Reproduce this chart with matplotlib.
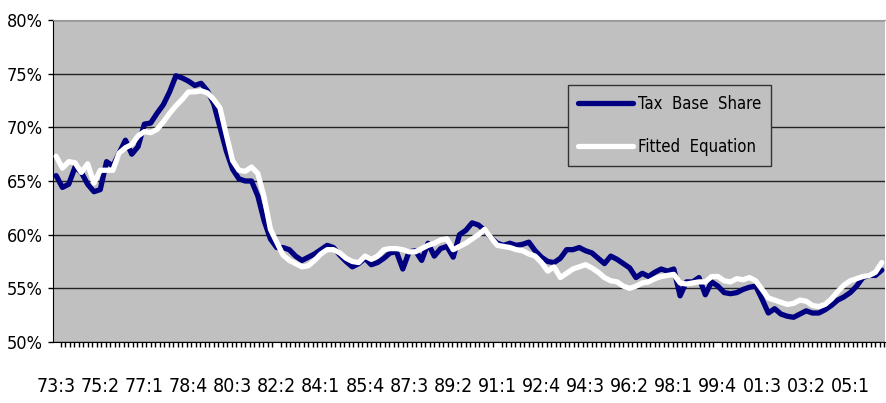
import numpy as np
import matplotlib
matplotlib.use("Agg")
import matplotlib.pyplot as plt
from matplotlib.ticker import FixedLocator, MultipleLocator

# narrow face to get close to the condensed font of the original
plt.rcParams['font.family'] = ['DejaVu Sans']
plt.rcParams['font.stretch'] = 'condensed'

# quarterly values, 73:3 .. 06:2
tax_base_share = [
    65.5, 64.4, 64.7, 66.3, 65.8, 64.7, 64.0, 64.2, 66.8, 66.4,
    67.6, 68.8, 67.5, 68.2, 70.3, 70.4, 71.3, 72.1, 73.3, 74.8,
    74.6, 74.3, 73.9, 74.1, 73.4, 72.2, 70.0, 67.8, 66.1, 65.2,
    65.0, 65.0, 63.6, 61.3, 59.6, 58.8, 58.8, 58.6, 58.0, 57.6,
    57.9, 58.2, 58.6, 59.0, 58.8, 58.1, 57.5, 57.0, 57.3, 57.8,
    57.2, 57.4, 57.8, 58.3, 58.4, 56.8, 58.4, 58.5, 57.6, 59.2,
    58.0, 58.7, 58.9, 57.9, 60.0, 60.4, 61.1, 60.9, 60.4, 59.7,
    59.2, 59.0, 59.2, 59.0, 59.1, 59.3, 58.5, 57.9, 57.5, 57.4,
    57.8, 58.6, 58.6, 58.8, 58.5, 58.3, 57.8, 57.3, 58.0, 57.7,
    57.3, 56.9, 56.0, 56.4, 56.1, 56.5, 56.8, 56.6, 56.8, 54.3,
    55.6, 55.6, 56.0, 54.4, 55.6, 55.2, 54.6, 54.5, 54.6, 54.9,
    55.1, 55.2, 54.0, 52.7, 53.1, 52.6, 52.4, 52.3, 52.6, 52.9,
    52.7, 52.7, 53.0, 53.4, 53.9, 54.2, 54.6, 55.2, 56.0, 56.2,
    56.2, 56.7,
]
fitted_equation = [
    67.3, 66.2, 66.8, 66.7, 65.8, 66.6, 64.8, 66.0, 66.0, 66.0,
    67.6, 68.1, 68.4, 69.2, 69.6, 69.5, 69.8, 70.5, 71.3, 72.0,
    72.6, 73.3, 73.3, 73.4, 73.2, 72.6, 71.8, 69.3, 66.9, 66.0,
    65.9, 66.3, 65.7, 63.5, 60.5, 59.3, 58.1, 57.6, 57.3, 57.0,
    57.1, 57.6, 58.2, 58.6, 58.6, 58.3, 57.8, 57.5, 57.4, 58.0,
    57.7, 58.0, 58.6, 58.7, 58.7, 58.6, 58.4, 58.4, 58.7, 59.0,
    59.2, 59.5, 59.6, 58.6, 58.9, 59.2, 59.6, 60.0, 60.5, 59.7,
    59.0, 58.9, 58.8, 58.6, 58.5, 58.2, 58.0, 57.4, 56.6, 57.0,
    56.0, 56.4, 56.8, 57.0, 57.2, 56.9, 56.5, 56.0, 55.7, 55.6,
    55.2, 55.0, 55.2, 55.5, 55.6, 55.9, 56.1, 56.2, 56.3, 55.5,
    55.4, 55.5, 55.6, 55.6, 56.1, 56.1, 55.7, 55.6, 55.9, 55.8,
    56.0, 55.7, 54.9, 54.1, 53.9, 53.7, 53.5, 53.6, 53.9, 53.8,
    53.4, 53.3, 53.5, 54.0, 54.7, 55.3, 55.7, 55.9, 56.1, 56.2,
    56.5, 57.4,
]
tick_labels = ['73:3', '75:2', '77:1', '78:4', '80:3', '82:2', '84:1',
               '85:4', '87:3', '89:2', '91:1', '92:4', '94:3', '96:2',
               '98:1', '99:4', '01:3', '03:2', '05:1']
label_step = 7

x = np.arange(len(tax_base_share))

fig = plt.figure(figsize=(8.86, 4.03), dpi=100)
ax = fig.add_axes([0.0598, 0.1514, 0.939, 0.799])
ax.set_facecolor('#C0C0C0')

ax.plot(x, tax_base_share, color='#000080', lw=3.8, solid_capstyle='round',
        solid_joinstyle='round', label='Tax  Base  Share', zorder=3)
ax.plot(x, fitted_equation, color='white', lw=3.8, solid_capstyle='round',
        solid_joinstyle='round', label='Fitted  Equation', zorder=4)

ax.set_xlim(-0.5, len(x) - 0.5)
ax.set_ylim(50, 80)
ax.set_yticks(np.arange(50, 81, 5))
ax.set_yticklabels(['%d%%' % v for v in np.arange(50, 81, 5)])
ax.grid(axis='y', color='#222222', lw=1.0, zorder=1)

ax.xaxis.set_major_locator(FixedLocator(np.arange(len(tick_labels)) * label_step))
ax.set_xticklabels(tick_labels)
ax.xaxis.set_minor_locator(MultipleLocator(5 / 7))
ax.tick_params(axis='x', which='major', length=0, pad=25, labelsize=14)
ax.tick_params(axis='x', which='minor', length=3.6, width=1, color='black')
ax.tick_params(axis='y', length=3.6, width=1, pad=4, labelsize=13)

ax.spines['top'].set_color('#999999')
ax.spines['right'].set_visible(False)
ax.spines['left'].set_color('black')
ax.spines['bottom'].set_color('black')

leg = ax.legend(loc='upper left', bbox_to_anchor=(0.619, 0.798), fontsize=12,
                frameon=True, fancybox=False, edgecolor='#333333',
                facecolor='#C0C0C0', framealpha=1, handlelength=3.3,
                borderpad=0.6, labelspacing=1.5, handletextpad=0.3,
                borderaxespad=0)
leg.get_frame().set_linewidth(1.0)
leg.set_zorder(5)

fig.savefig('out.png', dpi=100)
